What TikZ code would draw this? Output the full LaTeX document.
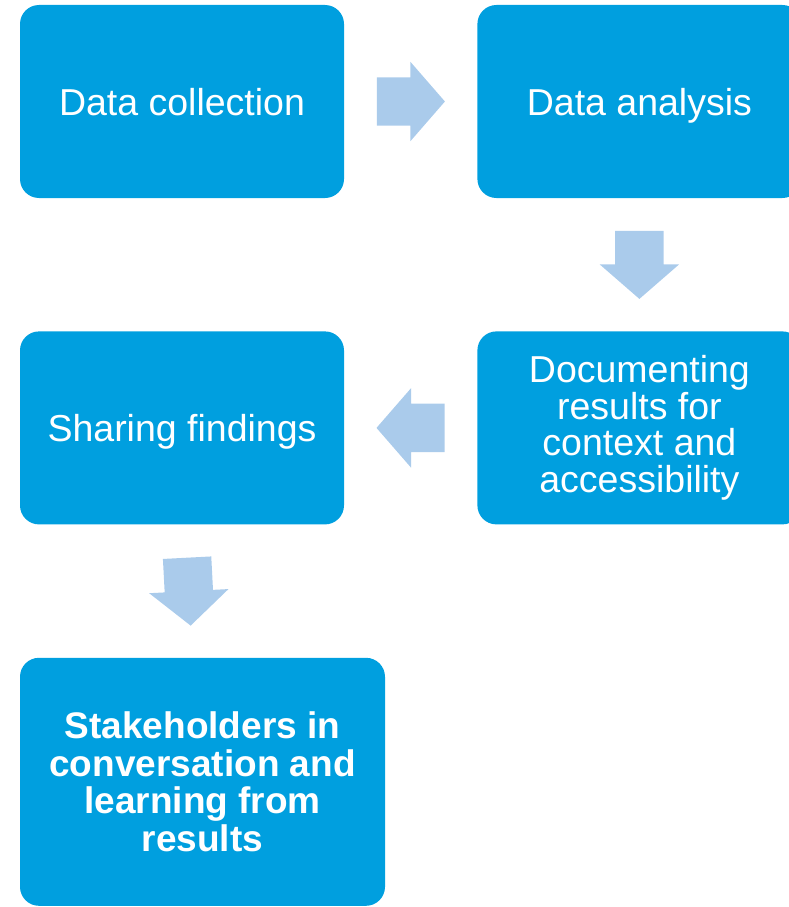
\documentclass[tikz,border=0pt]{standalone}
\usepackage{fontspec}
\setmainfont{Liberation Sans}
\usetikzlibrary{positioning,calc,shapes.arrows}

\definecolor{boxblue}{HTML}{009FDF}
\definecolor{arrowblue}{HTML}{AACBEB}

\tikzset{
  stepbox/.style={rectangle, rounded corners=19pt, fill=boxblue, text=white,
    minimum width=324pt, minimum height=193pt, inner sep=0pt, align=center,
    font=\fontsize{37.5}{36.7}\selectfont},
  oneline/.style={text depth=0pt},
  flowarrow/.style={single arrow, fill=arrowblue, inner xsep=0pt, inner ysep=24pt,
    minimum height=68pt, single arrow head extend=15.5pt, single arrow tip angle=98,
    anchor=tail}
}

\begin{document}
\begin{tikzpicture}[x=1pt, y=-1pt]
\clip (0,0) rectangle (789,907);

\node[stepbox, oneline] (collect) at (182,101.5) {Data collection};
\node[stepbox, oneline, right=133pt of collect] (analysis) {Data analysis};
\node[stepbox, below=133pt of analysis] (document) {Documenting\\results for\\context and\\accessibility};
\node[stepbox, oneline, below=133pt of collect] (share) {Sharing findings};
\node[stepbox, anchor=north west, minimum width=365pt, minimum height=248pt,
  font=\fontsize{37}{37.5}\selectfont\bfseries]
  (stake) at ([yshift=-133pt]share.south west)
  {Stakeholders in\\conversation and\\learning from\\results};

% arrows between the steps
\node[flowarrow] (a1) at ($(collect.east)!0.5!(analysis.west)!34pt!(collect.east)$) {};
\node[flowarrow, rotate=-90] (a2) at ($(analysis.south)!0.5!(document.north)!34pt!(analysis.south)$) {};
\node[flowarrow, rotate=180] (a3) at ($(document.west)!0.5!(share.east)!34pt!(document.west)$) {};
\node[flowarrow, rotate=-87] (a4) at ($(share.south)!0.5!(stake.north)!34pt!(share.south)$) {};
\end{tikzpicture}
\end{document}
